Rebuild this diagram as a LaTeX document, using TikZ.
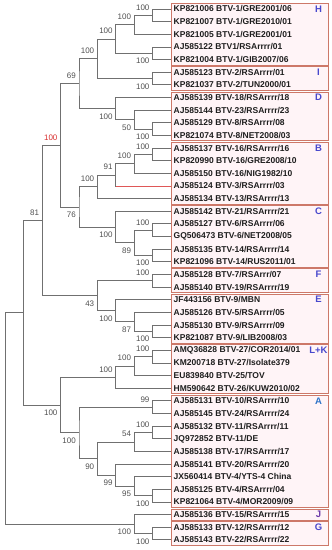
\documentclass[tikz,border=0pt]{standalone}
\usepackage{fontspec}
\setmainfont{Liberation Sans}
\usetikzlibrary{calc}
\definecolor{treegray}{RGB}{112,112,112}
\definecolor{bsgray}{RGB}{80,80,80}
\definecolor{leafblack}{RGB}{30,30,30}
\definecolor{boxred}{RGB}{205,120,105}
\definecolor{boxpink}{RGB}{255,244,247}
\definecolor{tagblue}{RGB}{72,72,205}
\definecolor{tagsky}{RGB}{45,115,200}
\definecolor{tagpurple}{RGB}{110,60,170}
\definecolor{bsred}{RGB}{215,45,45}

\begin{document}
\begin{tikzpicture}[x=1pt, y=-1pt,
                branch/.style={draw=treegray, line width=0.8pt},
                leaf/.style={anchor=west, inner xsep=2.5pt, inner ysep=0pt,
                             font=\fontsize{8.5}{9}\selectfont\bfseries, text=leafblack},
                bs/.style={anchor=base east, inner sep=0pt, xshift=-3pt,
                           font=\fontsize{8}{9}\selectfont, text=bsgray},
                clade/.style={draw=boxred, fill=boxpink, line width=0.9pt},
                tag/.style={font=\fontsize{9.5}{10}\selectfont\bfseries}
            ]
            \useasboundingbox (0,0) rectangle (332,550);
            \foreach \f/\l/\c/\col in {0/4/H/tagblue, 5/6/I/tagblue, 7/10/D/tagblue,
                11/15/B/tagblue, 16/20/C/tagblue, 21/22/F/tagblue, 23/26/E/tagblue,
                27/30/L+K/tagblue, 31/39/A/tagsky, 40/40/J/tagpurple, 41/42/G/tagblue}{
              \draw[clade] (171,{3.5+12.64*\f}) rectangle (328,{14.5+12.64*\l});
              \node[tag, text=\col] (tag\f) at (318.5,{9+12.64*\f}) {\c};
            }
            \foreach \t [count=\i from 0] in {KP821006 BTV-1/GRE2001/06, KP821007 BTV-1/GRE2010/01,
                KP821005 BTV-1/GRE2001/01, AJ585122 BTV1/RSArrrr/01, KP821004 BTV-1/GIB2007/06,
                AJ585123 BTV-2/RSArrrr/01, KP821037 BTV-2/TUN2000/01, AJ585139 BTV-18/RSArrrr/18,
                AJ585144 BTV-23/RSArrrr/23, AJ585129 BTV-8/RSArrrr/08, KP821074 BTV-8/NET2008/03,
                AJ585137 BTV-16/RSArrrr/16, KP820990 BTV-16/GRE2008/10, AJ585150 BTV-16/NIG1982/10,
                AJ585124 BTV-3/RSArrrr/03, AJ585134 BTV-13/RSArrrr/13, AJ585142 BTV-21/RSArrrr/21,
                AJ585127 BTV-6/RSArrrr/06, GQ506473 BTV-6/NET2008/05, AJ585135 BTV-14/RSArrrr/14,
                KP821096 BTV-14/RUS2011/01, AJ585128 BTV-7/RSArrr/07, AJ585140 BTV-19/RSArrrr/19,
                JF443156 BTV-9/MBN, AJ585126 BTV-5/RSArrrr/05, AJ585130 BTV-9/RSArrrr/09,
                KP821087 BTV-9/LIB2008/03, AMQ36828 BTV-27/COR2014/01, KM200718 BTV-27/Isolate379,
                EU839840 BTV-25/TOV, HM590642 BTV-26/KUW2010/02, AJ585131 BTV-10/RSArrrr/10,
                AJ585145 BTV-24/RSArrrr/24, AJ585132 BTV-11/RSArrrr/11, JQ972852 BTV-11/DE,
                AJ585138 BTV-17/RSArrrr/17, AJ585141 BTV-20/RSArrrr/20, JX560414 BTV-4/YTS-4 China,
                AJ585125 BTV-4/RSArrrr/04, KP821064 BTV-4/MOR2009/09, AJ585136 BTV-15/RSArrrr/15,
                AJ585133 BTV-12/RSArrrr/12, AJ585143 BTV-22/RSArrrr/22}
              \node[leaf] (l\i) at (171,{9+12.64*\i}) {\t};
            \foreach \nd/\k/\a/\b/\v/\s in {h1/1/l0/l1/100/5.1, h2/2/h1/l2/100/5.1, h3/1/l3/l4/100/-10.5,
                hh/3/h2/h3/100/5.1, ii/1/l5/l6/100/-10.5, hi/4/hh/ii/100/5.1,
                d1/1/l9/l10/100/-10.5, d2/2/l8/d1/50/-10.5, dd/3/l7/d2/100/-10.5, hid/5/hi/dd/69/5.1,
                b1/1/l11/l12/100/5.1, b2/2/b1/l13/100/5.1, b3/3/b2/l14/91/5.1, bb/4/b3/l15/100/5.1,
                c1/1/l17/l18/100/5.1, c2/1/l19/l20/100/-10.5, c3/2/c1/c2/89/-10.5, cc/3/l16/c3/100/-10.5,
                bc/5/bb/cc/76/-10.5, n6/6/hid/bc/{\color{bsred}100}/5.1,
                ff/1/l21/l22/100/5.1, e1/1/l25/l26/100/-10.5, e2/2/l24/e1/87/-10.5,
                ee/3/l23/e2/100/-10.5, fe/4/ff/ee/43/-10.5, n7/7/n6/fe/81/5.1,
                k1/1/l27/l28/100/5.1, k2/2/k1/l29/100/5.1, kk/3/k2/l30/100/5.1,
                a1/1/l31/l32/99/5.1, a2/1/l33/l34/100/5.1, a3/2/a2/l35/54/5.1,
                a4/1/l38/l39/100/-10.5, a5/2/l37/a4/95/-10.5, a6/3/l36/a5/99/-10.5,
                a7/4/a3/a6/90/-10.5, a8/5/a1/a7/100/-10.5, ka/6/kk/a8/100/-10.5,
                n8/8/n7/ka/{}/5.1, g1/1/l41/l42/100/-10.5, jg/2/l40/g1/100/-10.5,
                root/9/n8/jg/{}/5.1}{
              \path let \p1=(\a.west), \p2=(\b.west) in
                coordinate (\nd) at ({(171-18.4*\k)*1pt},{0.5*\y1+0.5*\y2});
              \draw[branch] (\a.west) -| (\nd) |- (\b.west);
              \node[bs, yshift=\s pt] (bs\nd) at (\nd) {\v};
            }
            \draw[branch, draw=bsred!80] (l14.west) -- (l14.west -| b3);
\end{tikzpicture}
\end{document}
